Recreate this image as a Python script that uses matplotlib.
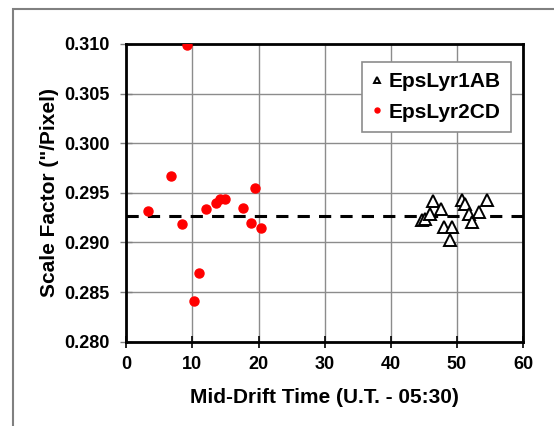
import matplotlib
matplotlib.use('Agg')
from matplotlib import pyplot as plt
from matplotlib.patches import Rectangle

plt.rcParams['font.family'] = ['Liberation Sans', 'DejaVu Sans']
plt.rcParams['font.weight'] = 'bold'
plt.rcParams['axes.labelweight'] = 'bold'

# EpsLyr1AB (open triangles)
ab_time = [44.8, 45.2, 46.0, 46.4, 47.6, 48.0, 48.9, 49.3, 50.8, 51.3,
           51.8, 52.3, 53.3, 54.6]
ab_scale = [0.2923, 0.2924, 0.2929, 0.2942, 0.2934, 0.2916, 0.2902, 0.2916,
            0.2943, 0.2939, 0.2929, 0.2921, 0.2931, 0.2943]

# EpsLyr2CD (red dots)
cd_time = [3.3, 6.7, 8.4, 9.2, 10.2, 11.0, 12.0, 13.5, 14.2, 14.9,
           17.7, 18.8, 19.5, 20.4]
cd_scale = [0.2932, 0.2967, 0.2919, 0.3099, 0.2841, 0.2869, 0.2934, 0.2940,
            0.2944, 0.2944, 0.2935, 0.2920, 0.2955, 0.2915]

mean_scale = 0.2927

xticks = [0, 10, 20, 30, 40, 50, 60]
yticks = [0.280, 0.285, 0.290, 0.295, 0.300, 0.305, 0.310]

fig = plt.figure(figsize=(5.54, 4.26), dpi=100)
ax = fig.add_axes([0.228, 0.198, 0.716, 0.699])

# outer frame around the chart (only left and top visible)
fig.patches.append(Rectangle((13 / 554, -0.1), 1.2, 1 - 9 / 426 + 0.1,
                             transform=fig.transFigure, fill=False,
                             edgecolor='#808080', lw=1.5))

ax.grid(True, color='#8c8c8c', lw=1.0, zorder=0)
ax.plot([0, 60], [mean_scale, mean_scale], '--', color='black', lw=2.2,
        dashes=(4, 3), zorder=2)

ax.plot(ab_time, ab_scale, '^', ms=9, mfc='white', mec='black', mew=1.4,
        ls='none', label='EpsLyr1AB', zorder=3)
ax.plot(cd_time, cd_scale, 'o', ms=6.5, color='red', ls='none',
        label='EpsLyr2CD', zorder=3)

ax.set_xlim(0, 60)
ax.set_ylim(0.280, 0.310)
ax.set_xticks(xticks)
ax.set_yticks(yticks)
ax.set_xticklabels([str(t) for t in xticks])
ax.set_yticklabels(['%.3f' % t for t in yticks])
ax.tick_params(direction='inout', length=8, width=1.2, labelsize=13,
               color='black')
ax.tick_params(axis='y', color='#808080', width=1.0, pad=8)
ax.tick_params(axis='x', pad=6)
for s in ax.spines.values():
    s.set_linewidth(2)

ax.set_xlabel('Mid-Drift Time (U.T. - 05:30)', fontsize=15, labelpad=11)
ax.set_ylabel('Scale Factor ("/Pixel)', fontsize=15, labelpad=4)

leg = ax.legend(loc='upper right', bbox_to_anchor=(0.997, 0.975),
                fontsize=15, markerscale=0.55, handlelength=0.5,
                handletextpad=0.3, borderpad=0.5, labelspacing=0.55,
                fancybox=False, framealpha=1)
leg.get_frame().set_edgecolor('#8c8c8c')
leg.get_frame().set_linewidth(1.2)

fig.savefig('out.png', dpi=100)
